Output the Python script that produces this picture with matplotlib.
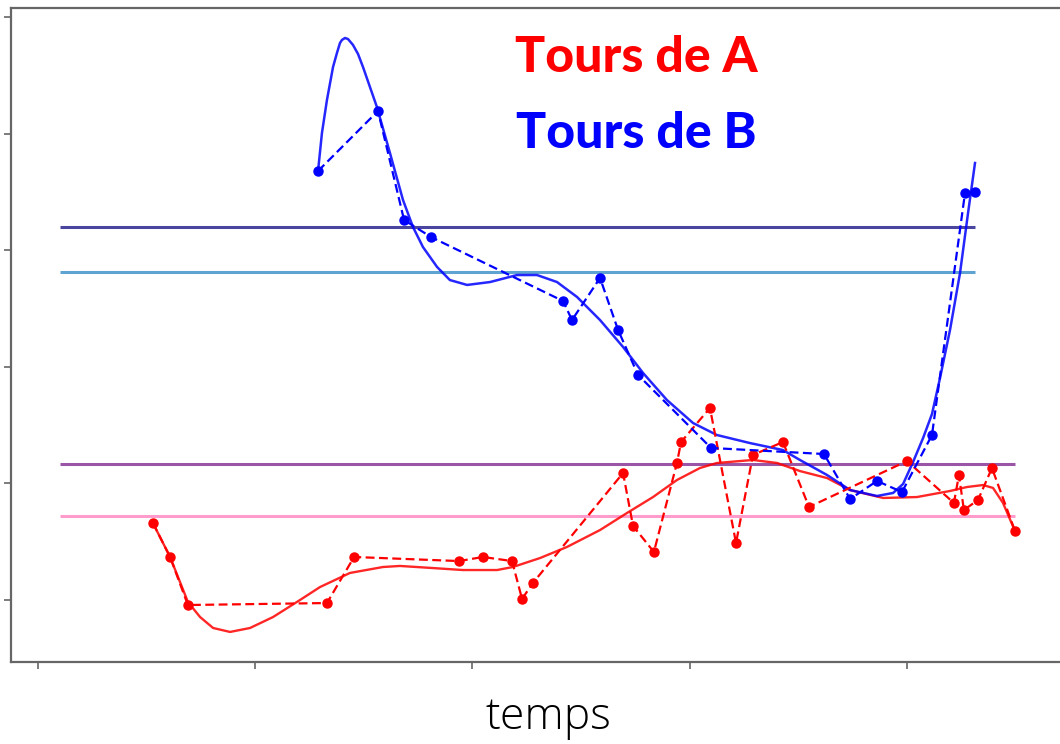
import numpy as np
import matplotlib
matplotlib.use('Agg')
import matplotlib.pyplot as plt

# tours de A (rouge) - points mesures
xa = [0.529, 0.608, 0.690, 1.330, 1.455, 1.938, 2.048, 2.182, 2.228, 2.278,
      2.693, 2.739, 2.835, 2.941, 2.960, 3.093, 3.213, 3.291, 3.429, 3.549,
      4.000, 4.216, 4.239, 4.262, 4.327, 4.391, 4.497]
ya = [0.660, 0.369, -0.043, -0.026, 0.369, 0.334, 0.369, 0.334, 0.009, 0.146,
      1.089, 0.635, 0.412, 1.175, 1.355, 1.647, 0.489, 1.244, 1.355, 0.798,
      1.192, 0.832, 1.072, 0.772, 0.858, 1.132, 0.592]

# tours de B (bleu) - points mesures
xb = [1.289, 1.565, 1.685, 1.809, 2.417, 2.458, 2.587, 2.670, 2.762, 3.098,
      3.618, 3.738, 3.862, 3.977, 4.115, 4.267, 4.313]
yb = [3.679, 4.194, 3.259, 3.113, 2.564, 2.401, 2.762, 2.316, 1.930, 1.304,
      1.252, 0.866, 1.021, 0.926, 1.415, 3.491, 3.499]

# tendances lissees
xa_tend = [0.529, 0.608, 0.690, 0.746, 0.806, 0.884, 0.976, 1.082, 1.206, 1.298,
           1.436, 1.588, 1.666, 1.818, 1.956, 2.113, 2.186, 2.311, 2.435, 2.587,
           2.711, 2.831, 2.941, 3.047, 3.125, 3.291, 3.402, 3.507, 3.632, 3.738,
           3.890, 4.046, 4.198, 4.276, 4.350, 4.396, 4.442, 4.497]
ya_tend = [0.660, 0.369, -0.017, -0.146, -0.240, -0.274, -0.240, -0.146, 0.000, 0.111,
           0.232, 0.283, 0.292, 0.274, 0.257, 0.257, 0.283, 0.360, 0.455, 0.600,
           0.746, 0.883, 1.029, 1.132, 1.175, 1.201, 1.175, 1.106, 1.046, 0.943,
           0.875, 0.883, 0.935, 0.969, 0.986, 0.961, 0.832, 0.592]

xb_tend = [1.289, 1.307, 1.330, 1.358, 1.376, 1.390, 1.399, 1.413, 1.427, 1.450,
           1.473, 1.496, 1.560, 1.620, 1.680, 1.726, 1.772, 1.837, 1.896, 1.975,
           2.081, 2.205, 2.297, 2.389, 2.481, 2.587, 2.693, 2.785, 2.895, 3.015,
           3.125, 3.277, 3.429, 3.507, 3.632, 3.738, 3.862, 3.936, 3.982, 4.028,
           4.074, 4.115, 4.152, 4.198, 4.244, 4.281, 4.313]
yb_tend = [3.679, 4.005, 4.288, 4.571, 4.691, 4.777, 4.803, 4.820, 4.811, 4.760,
           4.683, 4.571, 4.228, 3.834, 3.431, 3.199, 3.027, 2.856, 2.744, 2.702,
           2.727, 2.787, 2.787, 2.727, 2.599, 2.401, 2.170, 1.947, 1.715, 1.518,
           1.415, 1.346, 1.286, 1.201, 1.072, 0.943, 0.892, 0.918, 0.995, 1.184,
           1.389, 1.595, 1.904, 2.316, 2.804, 3.319, 3.748]

# niveaux horizontaux
niveaux_b = [3.199, 2.813]
niveaux_a = [1.166, 0.720]
couleurs_b = ['#4a46a0', '#5ea3d2']
couleurs_a = ['#9b55a6', '#ff9ccc']
x_debut = 0.10

fig = plt.figure(figsize=(10.6, 7.44), dpi=100)
ax = fig.add_axes([11/1060, 82/744, 1059/1060, 654/744])

for niv, c in zip(niveaux_b, couleurs_b):
    ax.hlines(niv, x_debut, xb[-1], color=c, linewidth=2.2)
for niv, c in zip(niveaux_a, couleurs_a):
    ax.hlines(niv, x_debut, xa[-1], color=c, linewidth=2.2)

ax.plot(xa_tend, ya_tend, color='red', linewidth=1.7, alpha=0.85,
        solid_joinstyle='round')
ax.plot(xb_tend, yb_tend, color='blue', linewidth=1.8, alpha=0.85,
        solid_joinstyle='round')

ax.plot(xa, ya, 'o', linestyle='--', dashes=(4, 2), color='red',
        linewidth=1.6, markersize=6.5)
ax.plot(xb, yb, 'o', linestyle='--', dashes=(4, 2), color='blue',
        linewidth=1.6, markersize=6.5)

ax.set_xlim((11-38)/217.25, (1070-38)/217.25)
ax.set_ylim((600-662)/116.6, (600-8)/116.6)
ax.set_xticks([0, 1, 2, 3, 4])
ax.set_yticks([0, 1, 2, 3, 4, 5])
ax.tick_params(axis='both', length=5, width=1.2, color='#666666',
               labelbottom=False, labelleft=False)
for s in ax.spines.values():
    s.set_color('#666666')
    s.set_linewidth(1.6)

fig.text(548/1060, 1-718/744, 'temps', fontsize=32, family='Open Sans',
         fontweight='light', ha='center', va='center', color='black')
fig.text(636/1060, 1-57/744, 'Tours de A', fontsize=36, family='Lato',
         fontweight='black', color='red', ha='center', va='center')
fig.text(636/1060, 1-133/744, 'Tours de B', fontsize=36, family='Lato',
         fontweight='black', color='blue', ha='center', va='center')

fig.savefig('out.png', dpi=100)
